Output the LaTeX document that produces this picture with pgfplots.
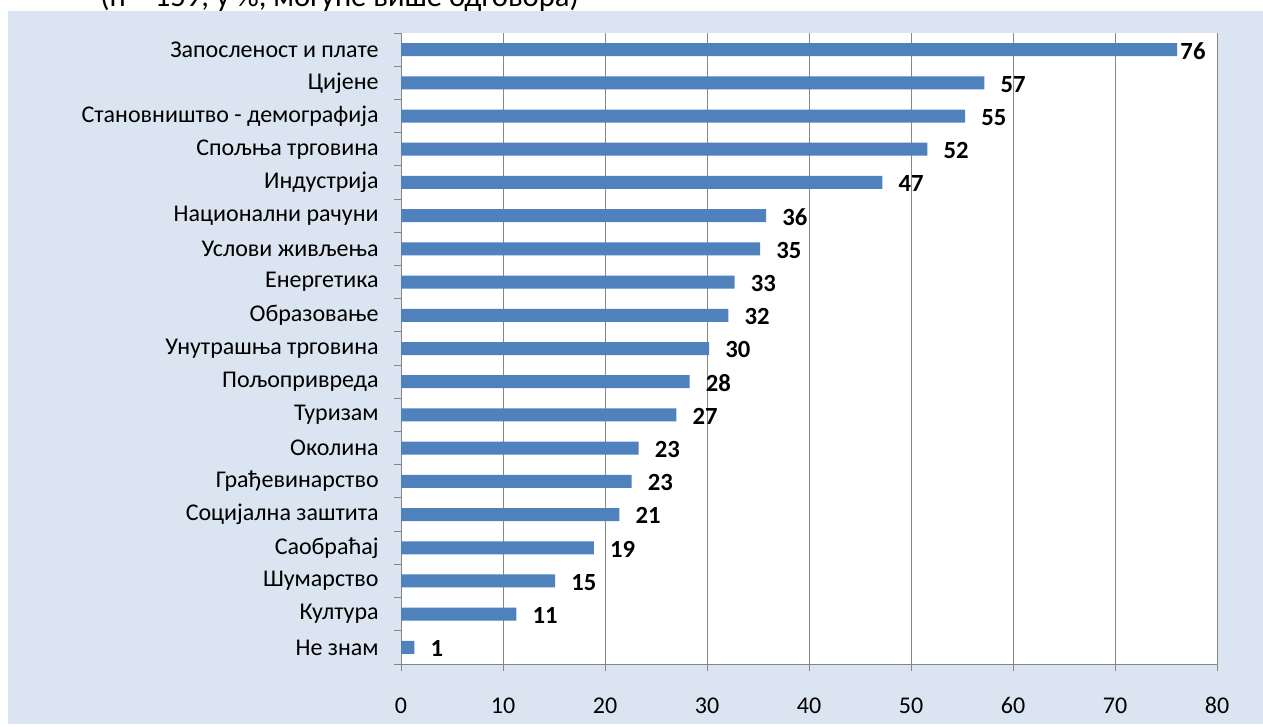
\documentclass[border=0pt]{standalone}
\usepackage{pgfplots}
\pgfplotsset{compat=1.18}
\usepackage{pgfplotstable}
\usepackage{fontspec}
\setmainfont{Carlito}

\definecolor{bgblue}{HTML}{DBE5F1}
\definecolor{barblue}{HTML}{4F81BD}
\definecolor{gridgray}{HTML}{868686}

% n = 159; shares in %; shift = gap between bar end and its label (pt)
\pgfplotstableread{
idx val  shift
0   76.1 2.25
1   57.2 12
2   55.3 12
3   51.6 12
4   47.2 12
5   35.8 12
6   35.2 12
7   32.7 12
8   32.1 12
9   30.2 12
10  28.3 12
11  27.0 12
12  23.3 12
13  22.6 12
14  21.4 12
15  18.9 12
16  15.1 12
17  11.3 12
18  1.3  12
}\shares

\begin{document}
\begin{tikzpicture}
\begin{scope}[x=0.75pt,y=-0.75pt]
  \useasboundingbox (0,0) rectangle (1263,724);
  \fill[bgblue] (8,11) rectangle (1263,724);
  \fill[white] (401,33) rectangle (1217,664);
  \begin{scope}
    \clip (0,0) rectangle (1263,11);
    \node[anchor=base west, inner sep=0pt, font=\fontsize{23}{27}\selectfont]
      at (100,7) {(n = 159, у \%, могуће више одговора)};
  \end{scope}
  \coordinate (ax) at (401,664);
\end{scope}
\begin{axis}[
    at={(ax)}, anchor=south west,
    scale only axis,
    width=612pt, height=473.25pt,
    xbar, bar width=9.75pt,
    xmin=0, xmax=80,
    ymin=-0.5, ymax=18.5,
    y dir=reverse,
    xtick={0,10,...,80},
    ytick={0,...,18},
    minor ytick={-0.5,0.5,...,18.5},
    yticklabels={Запосленост и плате, Цијене, Становништво - демографија,
      Спољња трговина, Индустрија, Национални рачуни, Услови живљења,
      Енергетика, Образовање, Унутрашња трговина, Пољопривреда, Туризам,
      Околина, Грађевинарство, Социјална заштита, Саобраћај, Шумарство,
      Култура, Не знам},
    axis x line*=bottom, axis y line*=left,
    axis line style={gridgray, line width=0.75pt},
    xmajorgrids,
    grid style={gridgray, line width=0.75pt},
    tick align=outside,
    major tick length=5.25pt, minor tick length=5.25pt,
    tick style={gridgray, line width=0.75pt},
    major y tick style={draw=none},
    /pgf/number format/assume math mode=true,
    ticklabel style={font=\fontsize{18}{21}\selectfont},
    xticklabel style={yshift=-14pt},
    xticklabel={\strut\pgfmathprintnumber{\tick}},
    yticklabel style={xshift=-8pt},
    nodes near coords={\pgfmathprintnumber[fixed,precision=0]{\pgfplotspointmeta}},
    point meta=x,
    visualization depends on={\thisrow{shift} \as \labshift},
    every node near coord/.append style={anchor=west, inner sep=0pt,
      xshift=\labshift pt, yshift=-1pt, font=\fontsize{18.5}{22}\selectfont\bfseries},
]
\addplot[fill=barblue, draw=none] table[x=val, y=idx] {\shares};
\end{axis}
\end{tikzpicture}
\end{document}
